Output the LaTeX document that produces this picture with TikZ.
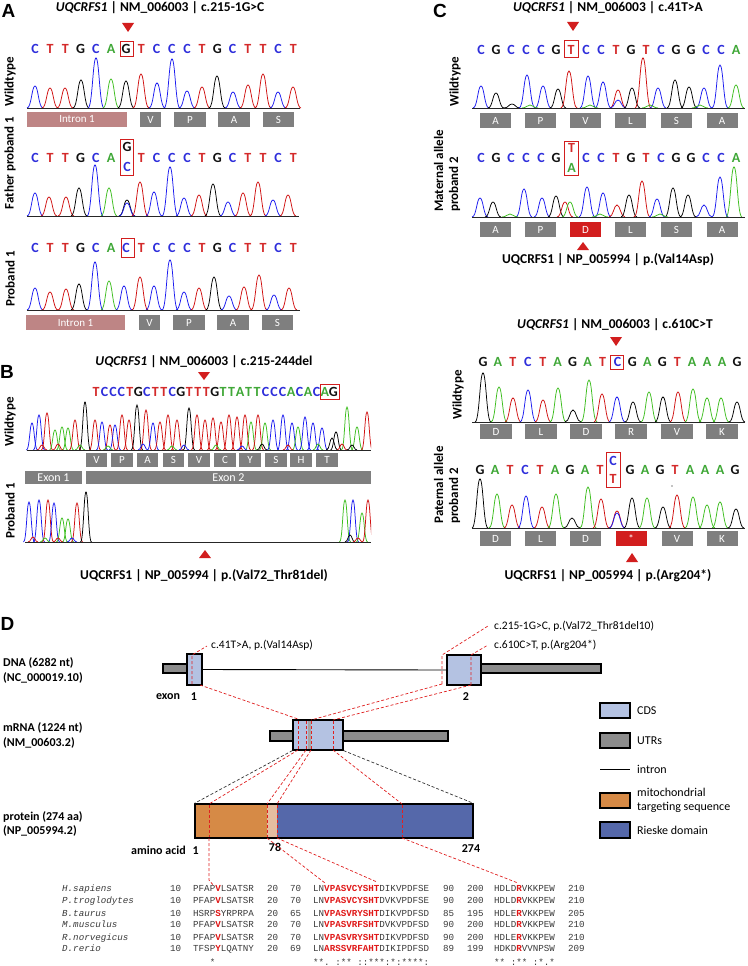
\documentclass[tikz,border=0pt]{standalone}
\usepackage{fontspec}
\setmainfont{Carlito}
\newfontfamily\monof{Liberation Mono}
\newfontfamily\panelf{Liberation Sans}
\usetikzlibrary{calc}
\definecolor{lb}{HTML}{2E2EDB}
\definecolor{lr}{HTML}{D42A2A}
\definecolor{lg}{HTML}{40A838}
\definecolor{lk}{HTML}{111111}
\definecolor{cb}{HTML}{1A1AF0}
\definecolor{cr}{HTML}{D01010}
\definecolor{cg}{HTML}{3DBE1E}
\definecolor{ck}{HTML}{000000}
\definecolor{mred}{HTML}{D21E1E}
\definecolor{aagray}{HTML}{7F7F7F}
\definecolor{intr}{HTML}{BE8585}
\definecolor{cdsc}{HTML}{B4C2E2}
\definecolor{utrc}{HTML}{8C8C8C}
\definecolor{mito}{HTML}{D68A46}
\definecolor{rieske}{HTML}{5568AA}
\definecolor{tanc}{HTML}{E4BDA0}
\definecolor{dred}{HTML}{E02020}
\definecolor{algray}{HTML}{3A3A3A}
\definecolor{alred}{HTML}{E01818}
\tikzset{
 panel/.style={font=\panelf\fontsize{19}{19}\bfseries\selectfont, inner sep=0},
 ttl/.style={font=\fontsize{13.5}{14}\bfseries\selectfont, inner sep=0},
 seqA/.style={font=\fontsize{14}{14}\bfseries\selectfont, inner sep=0},
 rowlab/.style={font=\fontsize{13}{15}\bfseries\selectfont, rotate=90, inner sep=0, align=left},
 aabox/.style={fill=aagray, text=white, font=\fontsize{11}{11}\selectfont, inner sep=0, minimum height=15},
 aared/.style={aabox, fill=mred},
 introbox/.style={aabox, fill=intr},
 redbox/.style={draw=mred, line width=1pt},
 tri/.style={fill=mred},
 bline/.style={line width=0.8pt, black!85},
 lbl/.style={font=\fontsize{12}{14}\bfseries\selectfont, inner sep=0},
 note/.style={font=\fontsize{11.5}{13}\selectfont, inner sep=0, anchor=west},
 leg/.style={font=\fontsize{12}{14}\selectfont, inner sep=0, anchor=west, align=left},
 cdsbox/.style={draw, line width=1.2pt, fill=cdsc, inner sep=0},
 utrbox/.style={draw, line width=1.2pt, fill=utrc, inner sep=0},
 rdash/.style={dred, line width=0.7pt, dash pattern=on 3pt off 2pt},
 kdash/.style={black!80, line width=0.7pt, dash pattern=on 3pt off 2pt},
 al/.style={font=\monof\fontsize{9.2}{9.2}\selectfont, text=algray, inner sep=0, anchor=base west},
}
\newcommand\chrom[3]{\foreach \px/\ph/\pc in {#3}{\draw[\pc,line width=0.75pt] ({\px-#2},#1) .. controls ({\px-0.45*#2},#1) and ({\px-0.4*#2},{#1-\ph}) .. (\px,{#1-\ph}) .. controls ({\px+0.4*#2},{#1-\ph}) and ({\px+0.45*#2},#1) .. ({\px+#2},#1);}}
\newcommand\redv[1]{\textcolor{alred}{\bfseries #1}}
\begin{document}
\begin{tikzpicture}[x=1pt,y=-1pt]
\useasboundingbox (0,0) rectangle (747,966);
\fill[white] (0,0) rectangle (747,966);

% ================= PANEL A =================
\node[panel] (pA) at (8.5,11) {A};
\node[ttl] (tA) at (160,8) {\textit{UQCRFS1} | NM\_006003 | c.215-1G>C};
\fill[tri] (122,23) -- (134,23) -- (128,32) -- cycle;
\foreach \ll/\cc [count=\ii from 0] in {C/lb,T/lr,T/lr,G/lk,C/lb,A/lg,G/lk,T/lr,C/lb,C/lb,C/lb,T/lr,G/lk,C/lb,T/lr,T/lr,C/lb,T/lr}
  \node[seqA,text=\cc] (aw\ii) at ({35+15.2*\ii},49) {\ll};
\draw[redbox] (120.5,42) rectangle (133.5,57);
\chrom{108}{8}{35/22/cb,50/20/cr,65/20/cr,81/28/ck,96/50/cb,111/29/cg,126/27/ck,141/34/cr,157/25/cb,172/49/cb,187/17/cb,202/21/cr,217/32/ck,233/16/cb,248/23/cr,263/34/cr,278/16/cb,293/21/cr}
\draw[bline] (27,108) -- (300,108);
\node[introbox, minimum width=100] (aI1) at (77,119.5) {Intron 1};
\node[aabox, minimum width=21] (aV1) at (150.5,119.5) {V};
\node[aabox, minimum width=32] (aP1) at (190,119.5) {P};
\node[aabox, minimum width=32] (aA1) at (234,119.5) {A};
\node[aabox, minimum width=31] (aS1) at (278.5,119.5) {S};
\node[rowlab] (lA1) at (10,82) {Wildtype};

% father
\foreach \ll/\cc [count=\ii from 0] in {C/lb,T/lr,T/lr,G/lk,C/lb,A/lg,/lk,T/lr,C/lb,C/lb,C/lb,T/lr,G/lk,C/lb,T/lr,T/lr,C/lb,T/lr}
  \node[seqA,text=\cc] (af\ii) at ({35+15.2*\ii},158) {\ll};
\node[seqA,text=lk] (afG) at (127,147) {G};
\node[seqA,text=lb] (afC) at (127,167) {C};
\draw[redbox] (120.5,139) rectangle (133.5,175);
\chrom{216}{8}{35/23/cb,49/19/cr,66/19/cr,79/28/ck,95/51/cb,109/28/cg,127/16/ck,127/13/cb,140/34/cr,154/24/cb,170/49/cb,184/18/cb,199/21/cr,213/32/ck,228/14/cb,243/23/cr,258/34/cr,273/16/cb,288/21/cr}
\draw[bline] (27,216) -- (299,216);
\node[rowlab] (lA2) at (10,163) {Father proband 1};

% proband
\foreach \ll/\cc [count=\ii from 0] in {C/lb,T/lr,T/lr,G/lk,C/lb,A/lg,C/lb,T/lr,C/lb,C/lb,C/lb,T/lr,G/lk,C/lb,T/lr,T/lr,C/lb,T/lr}
  \node[seqA,text=\cc] (ap\ii) at ({35+15.2*\ii},248) {\ll};
\draw[redbox] (121,238) rectangle (134,257);
\chrom{310}{8}{35/22/cb,50/18/cr,66/21/cr,79/26/ck,95/48/cb,109/29/cg,124/24/cb,140/33/cr,154/24/cb,170/50/cb,184/18/cb,199/22/cr,214/33/ck,229/14/cb,244/23/cr,259/35/cr,274/15/cb,289/22/cr}
\draw[bline] (27,310) -- (300,310);
\node[introbox, minimum width=99] (aI2) at (75.5,322.5) {Intron 1};
\node[aabox, minimum width=21] (aV2) at (149.5,322.5) {V};
\node[aabox, minimum width=32] (aP2) at (189,322.5) {P};
\node[aabox, minimum width=32] (aA2) at (233,322.5) {A};
\node[aabox, minimum width=31] (aS2) at (277.5,322.5) {S};
\node[rowlab] (lA3) at (10,279) {Proband 1};

% ================= PANEL B =================
\node[panel] (pB) at (7,372) {B};
\node[ttl] (tB) at (204,362) {\textit{UQCRFS1} | NM\_006003 | c.215-244del};
\fill[tri] (198,372) -- (210,372) -- (204,380) -- cycle;
\foreach \ll/\cc [count=\ii from 0] in {T/lr,C/lb,C/lb,C/lb,T/lr,G/lk,C/lb,T/lr,T/lr,C/lb,G/lk,T/lr,T/lr,T/lr,G/lk,T/lg,T/lg,A/lg,T/lg,T/lg,C/lb,C/lb,C/lb,A/lg,C/lb,A/lg,C/lb,A/lg,G/lk}
  \node[seqA,text=\cc] (bs\ii) at ({96+8.48*\ii},392) {\ll};
\draw[redbox] (320.5,384.5) rectangle (339.5,399.5);
\begin{scope}
\clip (20,380) rectangle (371,560);
\chrom{450}{5.5}{32/27/cb,39/35/cb,47/37/cr,55/20/cg,62/23/cg,68/22/cg,75/30/cr,85/48/ck,95/30/cr,102/28/cb,110/25/cr,115/25/cb,122/35/cr,129/30/cr,137/45/ck,146/40/cr,153/27/cb,160/28/cr,168/35/cr,177/30/cr,189/42/ck,197/35/cr,205/30/cr,213/32/cr,221/28/cr,229/35/cr,237/33/cr,245/35/cr,251/28/cg,258/35/cr,265/27/cg,273/30/cb,283/35/cb,292/27/cb,298/23/cg,305/33/cb,313/27/cb,322/22/cb,332/12/ck,336/18/ck,347/43/cg,357/23/cg,367/38/cr}
\chrom{450}{5}{42/5/cr,58/6/cr,80/5/cg,108/4/cg,143/6/cb,172/4/cg,184/5/cb,216/5/cg,242/4/cb,262/6/ck,288/5/cr,318/6/cg,342/6/cr,352/5/ck}
\chrom{542}{5.5}{29/40/cb,39/42/cb,48/42/cr,54/39/cb,62/24/cg,68/23/cg,77/39/cr,86/50/ck,345/42/cg,353/42/cb,362/29/cg,368/42/cr}
\chrom{542}{5}{33/5/cr,45/4/cg,58/4/cr,72/4/cb,350/7/ck,358/4/cr}
\end{scope}
\draw[bline] (27,450) -- (371,450);
\foreach \aa/\xx [count=\ii] in {V/96.5,P/122,A/147.5,S/173.5,V/199,C/225,Y/250,S/276,H/301,T/327}
  \node[aabox, minimum width=21.5, minimum height=14] (bA\ii) at (\xx,460) {\aa};
\node[aabox, minimum width=57, minimum height=13, font=\fontsize{12}{12}\selectfont] (bE1) at (53.5,477.5) {Exon 1};
\node[aabox, minimum width=285, minimum height=13, font=\fontsize{12}{12}\selectfont] (bE2) at (228.5,477.5) {Exon 2};
\draw[bline] (25,542) -- (371,542);
\fill[tri] (199,558) -- (211,558) -- (205,550) -- cycle;
\node[ttl] (bB) at (204,576) {UQCRFS1 | NP\_005994 | p.(Val72\_Thr81del)};
\node[rowlab] (lB1) at (10,422) {Wildtype};
\node[rowlab] (lB2) at (10,511) {Proband 1};

% ================= PANEL C =================
\node[panel] (pC) at (440,11) {C};
\node[ttl] (tC1) at (608,8) {\textit{UQCRFS1} | NM\_006003 | c.41T>A};
\fill[tri] (567,22) -- (579,22) -- (573,31) -- cycle;
\foreach \ll/\cc [count=\ii from 0] in {C/lb,G/lk,C/lb,C/lb,C/lb,G/lk,T/lr,C/lb,C/lb,T/lr,G/lk,T/lr,C/lb,G/lk,G/lk,C/lb,C/lb,A/lg}
  \node[seqA,text=\cc] (cw\ii) at ({481+15*\ii},50) {\ll};
\draw[redbox] (564.5,40.5) rectangle (578.5,58);
\chrom{108}{8}{481/22/cb,496/15/ck,512/4/ck,527/33/cb,543/22/cb,558/19/ck,569/37/cr,588/32/cb,603/26/cb,618/18/cr,618/8/cb,632/20/ck,643/50/cr,658/20/cb,675/28/ck,689/21/ck,704/20/cb,720/43/cb,736/23/cg,530/3/cg,590/3/cg,650/3/cg,700/3/cg}
\draw[bline] (472,108) -- (745,108);
\foreach \aa/\xx [count=\ii] in {A/495.5,P/540.5,V/585.5,L/630.5,S/676.5,A/722}
  \node[aabox, minimum width=31] (cA\ii) at (\xx,120.5) {\aa};
\node[rowlab] (lC1) at (455,82) {Wildtype};

% maternal
\foreach \ll/\cc [count=\ii from 0] in {C/lb,G/lk,C/lb,C/lb,C/lb,G/lk,/lk,C/lb,C/lb,T/lr,G/lk,T/lr,C/lb,G/lk,G/lk,C/lb,C/lb,A/lg}
  \node[seqA,text=\cc] (cm\ii) at ({481+15*\ii},158) {\ll};
\node[seqA,text=lr] (cmT) at (571.5,148) {T};
\node[seqA,text=lg] (cmA) at (571.5,168) {A};
\draw[redbox] (564.5,141) rectangle (578.5,175.5);
\chrom{217}{8}{480/19/cb,493/15/ck,524/28/cb,542/19/cb,556/21/ck,565/15/cr,570/15/cg,587/30/cb,603/24/cb,617/12/cr,629/22/ck,642/36/cr,657/18/cb,673/29/ck,688/22/ck,704/12/cb,720/40/cb,734/50/cg,510/3/cg,600/3/cg,660/3/cg}
\draw[bline] (472,217) -- (745,217);
\foreach \aa/\xx [count=\ii] in {A/495.5,P/540.5,L/630.5,S/676.5,A/722}
  \node[aabox, minimum width=31] (cB\ii) at (\xx,229.5) {\aa};
\node[aared, minimum width=31] (cBD) at (585.5,229.5) {D};
\fill[tri] (577,250) -- (589,250) -- (583,242) -- cycle;
\node[ttl] (bC1) at (608,260) {UQCRFS1 | NP\_005994 | p.(Val14Asp)};
\node[rowlab] (lC2) at (447,171) {Maternal allele\\proband 2};

% second C
\node[ttl] (tC2) at (615,325) {\textit{UQCRFS1} | NM\_006003 | c.610C>T};
\fill[tri] (610,337) -- (622,337) -- (616,346) -- cycle;
\foreach \ll/\cc [count=\ii from 0] in {G/lk,A/lg,T/lr,C/lb,T/lr,A/lg,G/lk,A/lg,T/lr,C/lb,G/lk,A/lg,G/lk,T/lr,A/lg,A/lg,A/lg,G/lk}
  \node[seqA,text=\cc] (cx\ii) at ({483+14.94*\ii},362) {\ll};
\draw[redbox] (610,355) rectangle (623.5,369);
\chrom{422}{8}{483/49/ck,499/35/cg,513/24/cr,528/32/cb,543/22/cr,558/34/cg,573/12/ck,589/42/cg,602/28/cr,617/25/cb,633/20/ck,649/30/cg,663/25/ck,678/30/cr,693/33/cg,707/24/cg,721/24/cg,737/20/ck}
\draw[bline] (472,422) -- (745,422);
\foreach \aa/\xx [count=\ii] in {D/496,L/541,D/586,R/631,V/677,K/722}
  \node[aabox, minimum width=32] (cD\ii) at (\xx,431.5) {\aa};
\node[rowlab] (lC3) at (458,395) {Wildtype};

% paternal
\foreach \ll/\cc [count=\ii from 0] in {G/lk,A/lg,T/lr,C/lb,T/lr,A/lg,G/lk,A/lg,T/lr,/lk,G/lk,A/lg,G/lk,T/lr,A/lg,A/lg,A/lg,G/lk}
  \node[seqA,text=\cc] (cy\ii) at ({480+15*\ii},470) {\ll};
\node[seqA,text=lb] (cyC) at (613,461) {C};
\node[seqA,text=lr] (cyT) at (613,479) {T};
\draw[redbox] (606,452) rectangle (620,487.5);
\fill (672,486) circle (0.7);
\chrom{528}{8}{480/49/ck,497/34/cg,512/23/cr,526/32/cb,542/21/cr,556/34/cg,572/10/ck,588/41/cg,601/29/cr,617/17/cr,617/15/cb,632/30/ck,647/30/cg,663/21/ck,677/33/cr,693/31/cg,707/23/cg,720/26/cg,736/19/ck}
\draw[bline] (472,528) -- (745,528);
\foreach \aa/\xx [count=\ii] in {D/495.5,L/540.5,D/585.5,V/677,K/722}
  \node[aabox, minimum width=31] (cE\ii) at (\xx,538.5) {\aa};
\node[aared, minimum width=31] (cEs) at (631,538.5) {*};
\fill[tri] (626,562) -- (638,562) -- (632,553) -- cycle;
\node[ttl] (bC2) at (608,576) {UQCRFS1 | NP\_005994 | p.(Arg204*)};
\node[rowlab] (lC4) at (447,485) {Paternal allele\\proband 2};

% ================= PANEL D =================
\node[panel] (pD) at (7.5,624) {D};
\node[lbl, anchor=west] (dl1) at (3,663) {DNA (6282 nt)};
\node[lbl, anchor=west] (dl2) at (3,678) {(NC\_000019.10)};
\node[lbl, anchor=west] (ml1) at (3,728) {mRNA (1224 nt)};
\node[lbl, anchor=west] (ml2) at (3,743) {(NM\_00603.2)};
\node[lbl, anchor=west] (pl1) at (3,817) {protein (274 aa)};
\node[lbl, anchor=west] (pl2) at (3,831) {(NP\_005994.2)};

% DNA
\node[utrbox, minimum width=24, minimum height=9] (dU1) at (175,668.5) {};
\node[utrbox, minimum width=120, minimum height=9] (dU2) at (541,668.5) {};
\node[cdsbox, minimum width=15, minimum height=31] (dE1) at (194.5,669.5) {};
\node[cdsbox, minimum width=34, minimum height=30] (dE2) at (464,670) {};
\draw[line width=0.9pt] (dE1.east) -- (dE2.west);
\draw[rdash] (192,684) -- (192,655) -- (207,646);
\node[note] (n41) at (211,645) {c.41T>A, p.(Val14Asp)};
\draw[rdash] (442,684) -- (442,655) -- (488,626);
\node[note] (n215) at (494,626) {c.215-1G>C, p.(Val72\_Thr81del10)};
\draw[rdash] (471,685) -- (471,655) -- (488,645);
\node[note] (n610) at (494,645) {c.610C>T, p.(Arg204*)};
\node[lbl] (exl) at (168,697) {exon};
\node[lbl] (ex1) at (194,697) {1};
\node[lbl] (ex2) at (466,697) {2};

% mRNA
\node[utrbox, minimum width=23, minimum height=10] (mU1) at (281.5,736) {};
\node[utrbox, minimum width=105, minimum height=10] (mU2) at (395.5,736) {};
\node[cdsbox, minimum width=50, minimum height=30] (mC) at (318,735) {};
\fill[black!35] (308,721) rectangle (311,749);
\foreach \xx in {298,306,311,333} \draw[rdash] (\xx,721) -- (\xx,749);
\draw[rdash] (200,685) -- (298,719);
\draw[rdash] (442,684) -- (311,720);
\draw[rdash] (471,685) -- (333,720);

% protein
\fill[mito] (195,804) rectangle (267,838);
\fill[tanc] (267,804) rectangle (277,838);
\fill[rieske] (277,804) rectangle (473,838);
\node[draw, line width=1.2pt, minimum width=278, minimum height=34, inner sep=0] (prot) at (334,821) {};
\foreach \xx in {209,267,277,402} \draw[rdash] (\xx,805) -- (\xx,837);
\draw[kdash] (mC.south west) -- (prot.north west);
\draw[kdash] (mC.south east) -- (prot.north east);
\draw[rdash] (298,750) -- (209,804);
\draw[rdash] (306,750) -- (267,804);
\draw[rdash] (311,750) -- (277,804);
\draw[rdash] (333,750) -- (402,804);
\node[lbl, anchor=east] (aa1) at (199,850) {amino acid\hspace{7pt}1};
\node[lbl] (aa78) at (275,847) {78};
\node[lbl] (aa274) at (471,849) {274};
\draw[rdash] (209,838) -- (209,880) -- (214,886);
\draw[rdash] (267,838) -- (325,883);
\draw[rdash] (277,838) -- (377,882);
\draw[rdash] (402,838) -- (518,883);

% legend
\node[cdsbox, minimum width=30, minimum height=15] (lgC) at (615,710.5) {};
\node[leg] (lgCt) at (637,711) {CDS};
\node[utrbox, minimum width=30, minimum height=15] (lgU) at (615,740.5) {};
\node[leg] (lgUt) at (637,741) {UTRs};
\coordinate (lgI1) at (600,769);
\coordinate (lgI2) at (630,769);
\draw[line width=0.9pt] (lgI1) -- (lgI2);
\node[leg] (lgIt) at (637,769) {intron};
\node[draw, line width=1.2pt, fill=mito, minimum width=30, minimum height=15, inner sep=0] (lgM) at (615,800.5) {};
\node[leg] (lgMt) at (637,800) {mitochondrial\\targeting sequence};
\node[draw, line width=1.2pt, fill=rieske, minimum width=30, minimum height=16, inner sep=0] (lgR) at (615,830) {};
\node[leg] (lgRt) at (637,830) {Rieske domain};

% alignment
\foreach \nm/\yy/\na/\sa/\nb/\sb/\nc/\nd/\sc/\ne [count=\ii] in {
 H.sapiens/891/10/{PFAP\redv{V}LSATSR}/70/{LN\redv{VPASVCYSHT}DIKVPDFSE}/90/200/{HDLD\redv{R}VKKPEW}/210,
 P.troglodytes/903/10/{PFAP\redv{V}LSATSR}/70/{LN\redv{VPASVCYSHT}DVKVPDFSE}/90/200/{HDLD\redv{R}VKKPEW}/210,
 B.taurus/916/10/{HSRP\redv{S}YRPRPA}/65/{LN\redv{VPASVRYSHT}DIKVPDFSD}/85/195/{HDLE\redv{R}VKKPEW}/205,
 M.musculus/927/10/{PFAP\redv{V}LSATSR}/70/{LN\redv{VPASVRFSHT}DVKVPDFSD}/90/200/{HDLD\redv{R}VKKPEW}/210,
 R.norvegicus/940/10/{PFAP\redv{V}LSATSR}/70/{LN\redv{VPASVRYSHT}DIKVPDFSD}/90/200/{HDLE\redv{R}VKKPEW}/210,
 D.rerio/951/10/{TFSP\redv{Y}LQATNY}/69/{LN\redv{ARSSVRFAHT}DIKIPDFSD}/89/199/{HDKD\redv{R}VVNPSW}/209}
{
 \node[al, font=\monof\itshape\fontsize{9.2}{9.2}\selectfont] (sp\ii) at (62,\yy) {\nm};
 \node[al] (na\ii) at (170,\yy) {\na};
 \node[al] (sa\ii) at (193,\yy) {\sa};
 \node[al] (nb\ii) at (267,\yy) {20};
 \node[al] (nc\ii) at (290,\yy) {\nb};
 \node[al] (sb\ii) at (313,\yy) {\sb};
 \node[al] (nd\ii) at (443,\yy) {\nc};
 \node[al] (ne\ii) at (467,\yy) {\nd};
 \node[al] (sc\ii) at (494,\yy) {\sc};
 \node[al] (nf\ii) at (568,\yy) {\ne};
}
\node[al] (cs1) at (209.6,965) {*};
\node[al] (cs2) at (313,965) {**.~:**~::***:*:****:};
\node[al] (cs3) at (494,965) {**~:**~:*.*};
\end{tikzpicture}
\end{document}
